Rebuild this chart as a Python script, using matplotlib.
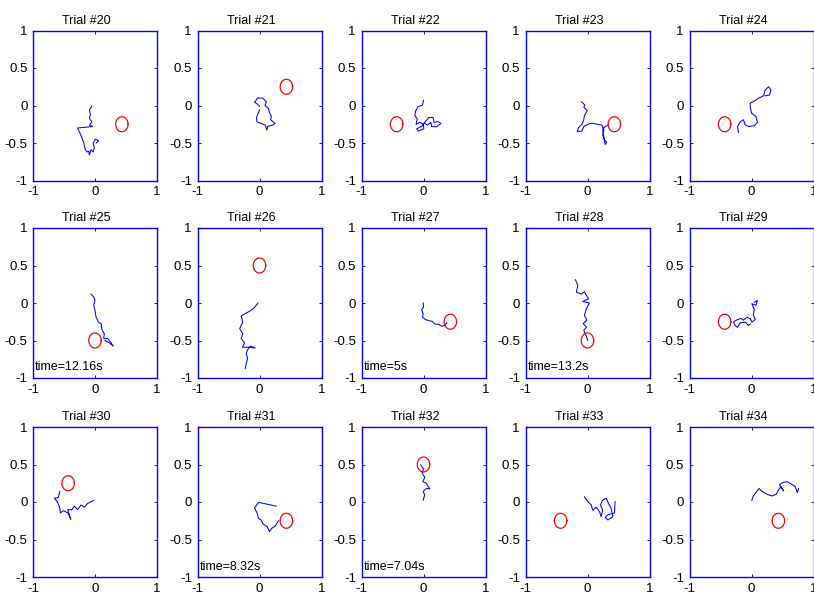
import numpy as np
import matplotlib
matplotlib.use("Agg")
import matplotlib.pyplot as plt
from matplotlib import font_manager

fams = {f.name for f in font_manager.fontManager.ttflist}
FONT = ['Liberation Sans Narrow', 'Liberation Sans', 'DejaVu Sans'] if 'Liberation Sans Narrow' in fams else ['Liberation Sans', 'DejaVu Sans']
plt.rcParams['font.family'] = FONT

trials = list(range(20, 35))

targets = [(0.433, -0.25), (0.433, 0.25), (-0.433, -0.25), (0.433, -0.25), (-0.433, -0.25),
           (0.0, -0.5), (0.0, 0.5), (0.433, -0.25), (0.0, -0.5), (-0.433, -0.25),
           (-0.433, 0.25), (0.433, -0.25), (0.0, 0.5), (-0.433, -0.25), (0.433, -0.25)]

times = [None, None, None, None, None,
         "time=12.16s", None, "time=5s", "time=13.2s", None,
         None, "time=8.32s", "time=7.04s", None, None]

target_radius = 0.1

path_20 = [(-0.05, -0.01), (-0.09, -0.06), (-0.075, -0.12), (-0.09, -0.17), (-0.05, -0.22),
           (-0.09, -0.26), (-0.04, -0.28), (-0.28, -0.30), (-0.23, -0.39), (-0.18, -0.50),
           (-0.16, -0.58), (-0.13, -0.62), (-0.10, -0.61), (-0.09, -0.66), (-0.065, -0.59),
           (-0.03, -0.62), (-0.01, -0.56), (-0.03, -0.50), (0.005, -0.45), (0.06, -0.47),
           (0.02, -0.50)]
path_21 = [(0, -0.01), (-0.05, 0.03), (-0.08, 0.04), (-0.03, 0.10), (0.05, 0.10), (0.11, 0.05),
           (0.09, 0.0), (0.145, -0.04), (0.16, -0.09), (0.19, -0.14), (0.18, -0.19), (0.25, -0.24),
           (0.215, -0.26), (0.13, -0.28), (0.12, -0.33), (0.09, -0.26), (0.03, -0.24), (-0.04, -0.22),
           (-0.05, -0.17), (-0.03, -0.12), (0, -0.06)]
path_22 = [(0, 0.07), (-0.015, 0.005), (-0.085, -0.015), (-0.125, -0.07), (-0.14, -0.135),
           (-0.10, -0.18), (-0.12, -0.25), (-0.055, -0.225), (-0.005, -0.25), (0.005, -0.31),
           (-0.085, -0.34), (-0.11, -0.31), (-0.03, -0.28), (0.03, -0.215), (0.085, -0.16),
           (0.155, -0.16), (0.17, -0.225), (0.235, -0.215), (0.28, -0.24), (0.21, -0.285),
           (0.13, -0.28), (0.12, -0.225), (0.065, -0.26), (0.02, -0.24)]
path_23 = [(-0.10, 0.05), (-0.04, 0.005), (-0.06, -0.02), (-0.005, -0.07), (-0.05, -0.135),
           (-0.06, -0.19), (-0.09, -0.25), (-0.145, -0.295), (-0.165, -0.35), (-0.09, -0.34),
           (-0.06, -0.28), (0.005, -0.25), (0.07, -0.235), (0.155, -0.25), (0.23, -0.26),
           (0.265, -0.325), (0.245, -0.395), (0.275, -0.46), (0.31, -0.49), (0.285, -0.52),
           (0.265, -0.43), (0.245, -0.315), (0.285, -0.28), (0.33, -0.26)]
path_24 = [(-0.21, -0.36), (-0.225, -0.28), (-0.18, -0.215), (-0.13, -0.19), (-0.10, -0.26),
           (-0.05, -0.28), (0.045, -0.27), (0.095, -0.225), (0.075, -0.15), (0.005, -0.105),
           (-0.02, -0.03), (-0.02, 0.03), (0.045, 0.06), (0.11, 0.095), (0.195, 0.13),
           (0.22, 0.205), (0.275, 0.25), (0.315, 0.205), (0.29, 0.14), (0.22, 0.13)]
path_25 = [(-0.065, 0.12), (-0.02, 0.08), (0, 0.035), (-0.02, -0.03), (0, -0.10), (0.015, -0.18),
           (0.055, -0.255), (0.10, -0.275), (0.11, -0.35), (0.15, -0.41), (0.14, -0.475),
           (0.205, -0.475), (0.25, -0.52), (0.295, -0.575), (0.23, -0.53), (0.16, -0.50)]
path_26 = [(-0.025, 0), (-0.09, -0.07), (-0.16, -0.11), (-0.24, -0.145), (-0.295, -0.175),
           (-0.27, -0.255), (-0.32, -0.34), (-0.27, -0.41), (-0.295, -0.475), (-0.24, -0.53),
           (-0.275, -0.59), (-0.18, -0.59), (-0.07, -0.60), (-0.145, -0.575), (-0.19, -0.62),
           (-0.215, -0.675), (-0.19, -0.74), (-0.215, -0.81), (-0.23, -0.875)]
path_27 = [(-0.005, 0), (0, -0.055), (-0.03, -0.09), (-0.005, -0.145), (-0.015, -0.19),
           (0.03, -0.22), (0.085, -0.235), (0.14, -0.245), (0.18, -0.28), (0.235, -0.285),
           (0.30, -0.31), (0.345, -0.30), (0.375, -0.265)]
path_28 = [(-0.195, 0.31), (-0.155, 0.235), (-0.18, 0.145), (-0.10, 0.12), (-0.05, 0.15),
           (0.015, 0.055), (-0.075, 0.02), (0.03, 0), (-0.02, -0.08), (-0.05, -0.165),
           (-0.01, -0.23), (-0.07, -0.275), (-0.015, -0.32), (-0.06, -0.365), (-0.025, -0.43),
           (0.005, -0.50)]
path_29 = [(0.045, 0.01), (0.095, 0.035), (0.075, -0.03), (0.005, -0.01), (0.045, -0.085),
           (0.03, -0.155), (0.06, -0.22), (0.005, -0.255), (-0.02, -0.21), (-0.075, -0.19),
           (-0.13, -0.23), (-0.17, -0.205), (-0.235, -0.225), (-0.29, -0.25), (-0.265, -0.30),
           (-0.225, -0.325), (-0.185, -0.265), (-0.10, -0.255), (-0.05, -0.30), (-0.02, -0.28)]
path_30 = [(-0.025, 0.02), (-0.12, -0.02), (-0.17, -0.07), (-0.225, -0.04), (-0.28, -0.10),
           (-0.335, -0.055), (-0.375, -0.105), (-0.44, -0.10), (-0.415, -0.175), (-0.39, -0.23),
           (-0.43, -0.15), (-0.505, -0.115), (-0.56, -0.145), (-0.57, -0.07), (-0.61, 0.005),
           (-0.655, 0.05), (-0.59, 0.06), (-0.57, 0.14)]
path_31 = [(0.27, -0.055), (-0.015, -0.005), (-0.08, -0.08), (-0.04, -0.145), (-0.015, -0.22),
           (0.025, -0.24), (0.06, -0.295), (0.125, -0.33), (0.16, -0.395), (0.2, -0.35),
           (0.255, -0.32), (0.305, -0.25)]
path_32 = [(-0.005, 0.025), (0.02, 0.095), (-0.005, 0.14), (0.045, 0.18), (0.10, 0.175),
           (0.045, 0.25), (-0.01, 0.27), (0.02, 0.33), (-0.02, 0.385), (0, 0.44), (-0.045, 0.495)]
path_33 = [(-0.05, 0.07), (0.005, 0.005), (0.06, -0.04), (0.085, -0.11), (0.14, -0.07),
           (0.195, -0.13), (0.22, -0.195), (0.245, -0.11), (0.21, -0.04), (0.245, 0.025),
           (0.30, 0.05), (0.34, -0.02), (0.38, -0.085), (0.41, -0.195), (0.33, -0.24),
           (0.285, -0.205), (0.33, -0.17), (0.435, -0.145), (0.445, 0.005)]
path_34 = [(0.005, 0.02), (0.03, 0.08), (0.085, 0.14), (0.12, 0.18), (0.165, 0.145),
           (0.245, 0.105), (0.33, 0.08), (0.40, 0.105), (0.435, 0.16), (0.475, 0.205),
           (0.515, 0.15), (0.45, 0.23), (0.505, 0.26), (0.58, 0.27), (0.65, 0.235),
           (0.705, 0.205), (0.74, 0.125), (0.76, 0.18)]

paths = [path_20, path_21, path_22, path_23, path_24, path_25, path_26, path_27,
         path_28, path_29, path_30, path_31, path_32, path_33, path_34]

xticks = [-1, 0, 1]
xticklabels = ["-1", "0", "1"]
yticks = [-1, -0.5, 0, 0.5, 1]
yticklabels = ["-1", "-0.5", "0", "0.5", "1"]

W, H = 814, 593
fig = plt.figure(figsize=(W / 100, H / 100), dpi=100)

col_left = [33, 197.5, 361.5, 525.5, 689.5]
row_top = [30.5, 228, 427]
aw, ah = 124, 150

theta = np.linspace(0, 2 * np.pi, 60)
FS = 9.5

for i, trial in enumerate(trials):
    r, c = divmod(i, 5)
    ax = fig.add_axes([col_left[c] / W, 1 - (row_top[r] + ah) / H, aw / W, ah / H])
    pts = np.array(paths[i])
    ax.plot(pts[:, 0], pts[:, 1], color=(0, 0, 1), lw=0.75)
    cx, cy = targets[i]
    ax.plot(cx + target_radius * np.cos(theta), cy + target_radius * np.sin(theta),
            color=(1, 0, 0), lw=0.9)
    ax.set_xlim(-1, 1)
    ax.set_ylim(-1, 1)
    ax.set_xticks(xticks)
    ax.set_xticklabels(xticklabels)
    ax.set_yticks(yticks)
    ax.set_yticklabels(yticklabels)
    ax.tick_params(direction='in', length=2.5, width=0.6, top=True, right=True,
                   labelsize=FS, pad=4, colors='black')
    for s in ax.spines.values():
        s.set_color((0, 0, 1))
        s.set_linewidth(1.0)
    ax.text(0.43, 1.025, f"Trial #{trial}", transform=ax.transAxes, ha='center', va='bottom',
            fontsize=9)
    if times[i]:
        ax.text(-0.97, -0.86, times[i], ha='left', va='center', fontsize=9)

fig.savefig("out.png", dpi=100)
